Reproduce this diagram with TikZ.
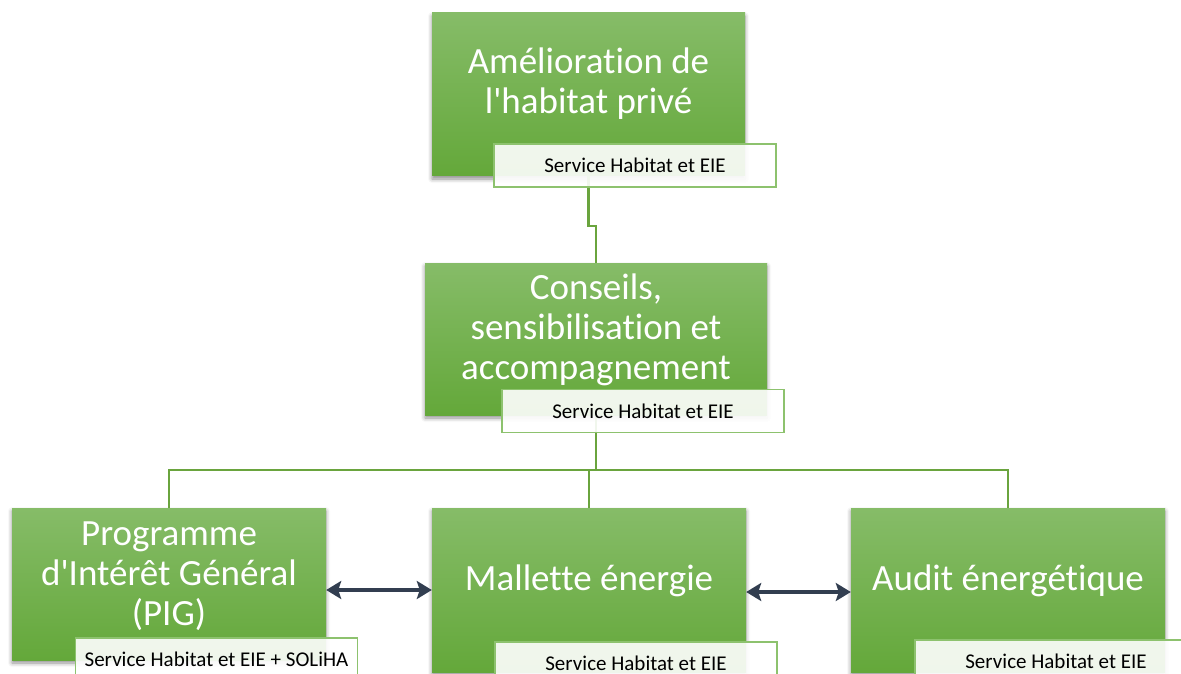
\documentclass[tikz,border=0pt]{standalone}
\usepackage{fontspec}
\setmainfont{Carlito}[Ligatures={TeXOff,CommonOff}]
\usetikzlibrary{arrows.meta,shadows.blur}
\definecolor{vertHaut}{RGB}{134,188,104}
\definecolor{vertBas}{RGB}{100,168,58}
\definecolor{vertLien}{RGB}{106,164,62}
\definecolor{vertCadre}{RGB}{141,194,110}
\definecolor{bleuFleche}{RGB}{50,62,80}
\tikzset{
  boite/.style={rectangle,top color=vertHaut,bottom color=vertBas,
    blur shadow={shadow xshift=0pt,shadow yshift=-3pt,shadow blur radius=4pt,shadow opacity=45}},
  texteboite/.style={text=white,align=center,font=\fontsize{37}{40}\selectfont},
  etiquette/.style={rectangle,draw=vertCadre,line width=1.2pt,fill=white,fill opacity=0.9,
    text opacity=1,minimum width=282pt,minimum height=43pt,inner sep=0pt,
    font=\fontsize{21}{24}\selectfont},
  lien/.style={draw=vertLien,line width=2.8pt},
  fleche/.style={draw=bleuFleche,line width=3.6pt,{Stealth[length=15pt,width=18pt,inset=3pt]}-{Stealth[length=15pt,width=18pt,inset=3pt]}}
}
\begin{document}
\begin{tikzpicture}[x=1pt,y=-1pt]
    \useasboundingbox (0,0) rectangle (1181,674);
    % Boites vertes
    \node[boite,minimum width=313pt,minimum height=163pt] (amel) at (588.5,94.5) {};
    \node[boite,minimum width=342pt,minimum height=152pt] (cons) at (596,339) {};
    \node[boite,minimum width=314pt,minimum height=152pt] (pig) at (169,584) {};
    \node[boite,minimum width=314pt,minimum height=164pt] (mal) at (589,590) {};
    \node[boite,minimum width=314pt,minimum height=164pt] (audit) at (1008,590) {};
    % Textes
    \node[texteboite] (amelT) at (588.5,84) {Amélioration de\\l'habitat privé};
    \node[texteboite] (consT) at (596,330) {Conseils,\\sensibilisation et\\accompagnement};
    \node[texteboite] (pigT) at (169,576) {Programme\\d'Intérêt Général\\(PIG)};
    \node[texteboite] (malT) at (589,581) {Mallette énergie};
    \node[texteboite] (auditT) at (1008,581) {Audit énergétique};
    % Liens
    \coordinate (coude) at (0,226);
    \coordinate (barre) at (0,470);
    \draw[lien] (amel.south) -- (amel.south |- coude) -| (cons.north);
    \draw[lien] (cons.south) -- (cons.south |- barre);
    \draw[lien] (pig.north) -- (pig.north |- barre) -- (audit.north |- barre) -- (audit.north);
    \draw[lien] (mal.north) -- (mal.north |- barre);
    % Fleches
    \draw[fleche] (pig.east |- mal.west) -- (mal.west);
    \draw[fleche] ([yshift=-2pt]mal.east) -- ([yshift=-2pt]audit.west);
    % Etiquettes
    \foreach \nom/\x/\y/\txt in {amelE/635/165.5/{Service Habitat et EIE},
        consE/643/411/{Service Habitat et EIE},
        pigE/216.5/659.5/{Service Habitat et EIE + SOLiHA},
        malE/636/663.5/{Service Habitat et EIE},
        auditE/1056/661.5/{Service Habitat et EIE}}{
      \node[etiquette] (\nom) at (\x,\y) {\txt};
    }
\end{tikzpicture}
\end{document}
